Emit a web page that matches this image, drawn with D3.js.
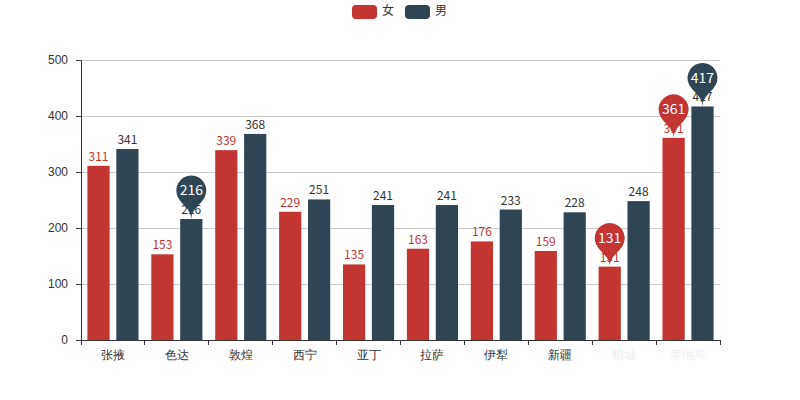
<!DOCTYPE html>
<html>
<head>
<meta charset="utf-8">
<script src="https://cdn.jsdelivr.net/npm/d3@7"></script>
<style>
html,body{margin:0;padding:0;background:#fff;}
svg{display:block;font-family:"Noto Sans CJK SC","Noto Sans",sans-serif;}
</style>
</head>
<body>
<svg id="chart" width="800" height="400"></svg>
<script>
const categories = ["张掖","色达","敦煌","西宁","亚丁","拉萨","伊犁","新疆","稻城","喀纳斯"];
const femaleValues = [311,153,339,229,135,163,176,159,131,361];
const maleValues = [341,216,368,251,241,241,233,228,248,417];
const seriesNames = ["女","男"];
const yTicks = [0,100,200,300,400,500];
const hiddenLabels = ["稻城","喀纳斯"];

const colors = ["#c23531","#2f4554"];
const series = [femaleValues, maleValues];

const svg = d3.select("#chart");
const margin = {left:81, right:80, top:60, bottom:60};
const W = 800, H = 400;

const x = d3.scaleBand().domain(categories).range([margin.left, W - margin.right]).paddingInner(0).paddingOuter(0);
const y = d3.scaleLinear().domain([0,500]).range([H - margin.bottom, margin.top]);

// grid lines
svg.append("g").selectAll("line").data(yTicks.filter(d=>d>0)).join("line")
  .attr("x1", margin.left).attr("x2", W - margin.right)
  .attr("y1", d=>y(d)).attr("y2", d=>y(d))
  .attr("stroke","#ccc").attr("stroke-width",1).attr("shape-rendering","crispEdges");

// bars
const bw = x.bandwidth();
const barW = bw * 0.8 / 2.3;
const gap = barW * 0.3;
const sub = (i)=> bw*0.1 + i*(barW+gap);

series.forEach((vals, si) => {
  const g = svg.append("g");
  g.selectAll("rect").data(vals).join("rect")
    .attr("x",(d,i)=>x(categories[i]) + sub(si))
    .attr("y",d=>y(d))
    .attr("width",barW)
    .attr("height",d=>y(0)-y(d))
    .attr("fill",colors[si]);
  g.selectAll("text").data(vals).join("text")
    .attr("x",(d,i)=>x(categories[i]) + sub(si) + barW/2)
    .attr("y",d=>y(d)-5)
    .attr("text-anchor","middle")
    .attr("font-size",12)
    .attr("fill", si===0 ? colors[0] : "#333")
    .text(d=>d);
});

// axes
const yAxis = svg.append("g").attr("transform",`translate(${margin.left},0)`)
  .call(d3.axisLeft(y).tickValues(yTicks).tickSize(5).tickPadding(8));
yAxis.select(".domain").attr("stroke","#333");
yAxis.selectAll(".tick line").attr("stroke","#333");
yAxis.selectAll(".tick text").attr("fill","#333").attr("font-size",12).style("font-family","inherit");

const xAxis = svg.append("g").attr("transform",`translate(0,${H - margin.bottom})`)
  .call(d3.axisBottom(x).tickSize(0).tickPadding(10));
xAxis.select(".domain").attr("stroke","#333");
xAxis.selectAll(".tick text").attr("fill","#333").attr("font-size",12).style("font-family","inherit")
  .attr("opacity", d => hiddenLabels.includes(d) ? 0.08 : 1);
// boundary ticks
svg.append("g").selectAll("line").data(categories.concat([null])).join("line")
  .attr("x1",(d,i)=>margin.left + i*bw).attr("x2",(d,i)=>margin.left + i*bw)
  .attr("y1",H - margin.bottom).attr("y2",H - margin.bottom + 5)
  .attr("stroke","#333").attr("shape-rendering","crispEdges");

// mark points (pin) for max/min
function pinPath(px, py, size){
  const w = size/5*3, h = Math.max(w,size), r = w/2;
  const dy = r*r/(h-r);
  const cy = py - h + r + dy;
  const angle = Math.asin(dy/r);
  const dx = Math.cos(angle)*r;
  const tanX = Math.sin(angle), tanY = Math.cos(angle);
  const cpLen = r*0.6, cpLen2 = r*0.7;
  const p = d3.path();
  p.moveTo(px-dx, cy+dy);
  p.arc(px, cy, r, Math.PI - angle, Math.PI*2 + angle);
  p.bezierCurveTo(px+dx-tanX*cpLen, cy+dy+tanY*cpLen, px, py-cpLen2, px, py);
  p.bezierCurveTo(px, py-cpLen2, px-dx+tanX*cpLen, cy+dy+tanY*cpLen, px-dx, cy+dy);
  p.closePath();
  return {d:p.toString(), cy:cy};
}
series.forEach((vals, si) => {
  const maxI = d3.maxIndex(vals), minI = d3.minIndex(vals);
  [maxI, minI].forEach(i => {
    const px = x(categories[i]) + sub(si) + barW/2;
    const py = y(vals[i]);
    const pin = pinPath(px, py, 50);
    svg.append("path").attr("d",pin.d).attr("fill",colors[si]);
    svg.append("text").attr("x",px).attr("y",pin.cy+1)
      .attr("text-anchor","middle").attr("dominant-baseline","middle")
      .attr("fill","#fff").attr("font-size",14).text(vals[i]);
  });
});

// legend
const legend = svg.append("g");
const legendX = [352, 405];
seriesNames.forEach((n,i)=>{
  legend.append("rect").attr("x",legendX[i]).attr("y",5).attr("width",25).attr("height",14)
    .attr("rx",4).attr("fill",colors[i]);
  legend.append("text").attr("x",legendX[i]+30).attr("y",12).attr("dominant-baseline","middle")
    .attr("font-size",12).attr("fill","#333").text(n);
});
</script>
</body>
</html>
